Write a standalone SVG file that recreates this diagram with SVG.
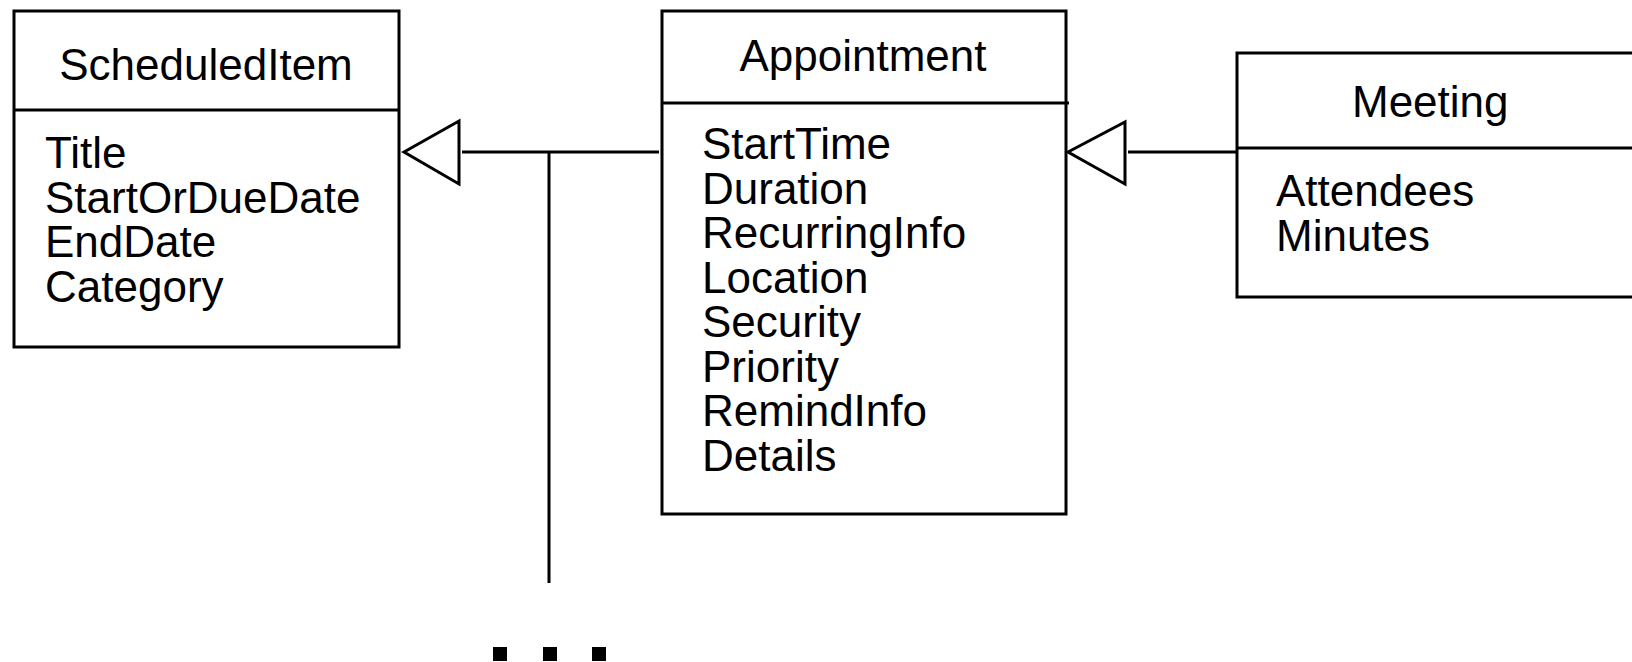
<svg xmlns="http://www.w3.org/2000/svg" width="1632" height="662" viewBox="0 0 1632 662">
<style>
.box{fill:#fff;stroke:#000;stroke-width:3}
.ln{fill:none;stroke:#000;stroke-width:3}
.tri{fill:#fff;stroke:#000;stroke-width:3;stroke-linejoin:miter}
.t{font-family:"Liberation Sans",Arial,sans-serif;font-size:44px;fill:#000}
.c{text-anchor:middle}
</style>
<rect width="1632" height="662" fill="#fff"/>
<g id="connectors">
<line class="ln" x1="462" y1="152" x2="659" y2="152"/>
<line class="ln" x1="549" y1="152" x2="549" y2="583"/>
<polygon class="tri" points="404,152 459,121 459,184"/>
<line class="ln" x1="1128" y1="152" x2="1237" y2="152"/>
<polygon class="tri" points="1068,152 1125,122 1125,184"/>
</g>
<g id="ScheduledItem">
<rect class="box" x="14" y="11" width="385" height="336"/>
<line class="ln" x1="14" y1="110" x2="399" y2="110"/>
<text class="t c" x="206" y="80">ScheduledItem</text>
<text class="t" x="45" y="168">Title</text>
<text class="t" x="45" y="212.5">StartOrDueDate</text>
<text class="t" x="45" y="257">EndDate</text>
<text class="t" x="45" y="301.5">Category</text>
</g>
<g id="Appointment">
<rect class="box" x="662" y="11" width="404" height="503"/>
<line class="ln" x1="662" y1="103" x2="1069" y2="103"/>
<text class="t c" x="863" y="71">Appointment</text>
<text class="t" x="702" y="159">StartTime</text>
<text class="t" x="702" y="203.5">Duration</text>
<text class="t" x="702" y="248">RecurringInfo</text>
<text class="t" x="702" y="292.5">Location</text>
<text class="t" x="702" y="337">Security</text>
<text class="t" x="702" y="381.5">Priority</text>
<text class="t" x="702" y="426">RemindInfo</text>
<text class="t" x="702" y="470.5">Details</text>
</g>
<g id="Meeting">
<rect class="box" x="1237" y="53" width="420" height="244"/>
<line class="ln" x1="1237" y1="148" x2="1640" y2="148"/>
<text class="t" x="1352" y="117">Meeting</text>
<text class="t" x="1276" y="206">Attendees</text>
<text class="t" x="1276" y="251">Minutes</text>
</g>
<g id="ellipsis">
<rect x="493" y="647" width="14" height="14" fill="#000"/>
<rect x="543" y="647" width="14" height="14" fill="#000"/>
<rect x="592" y="647" width="14" height="14" fill="#000"/>
</g>
</svg>
